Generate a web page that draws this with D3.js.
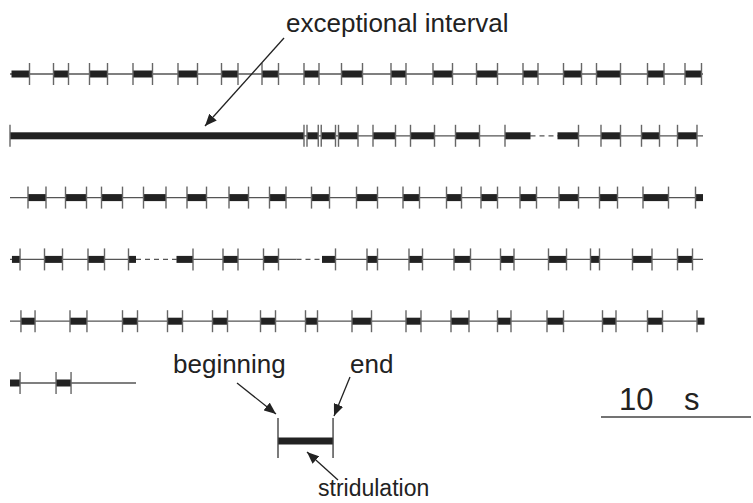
<!DOCTYPE html>
<html>
<head>
<meta charset="utf-8">
<script src="https://cdn.jsdelivr.net/npm/d3@7"></script>
<style>
  body { margin: 0; background: #fff; }
  text { font-family: "Liberation Sans", Arial, sans-serif; fill: #222; }
</style>
</head>
<body>
<div id="chart"></div>
<script>
var svgWidth = 753;
var svgHeight = 503;

// stridulations per row, in seconds: [start, end, ticks]  ticks: "be" both, "b" begin only, "e" end only
var row1 = [[0.1,1.3,"e"],[2.9,3.9],[5.3,6.5],[8.2,9.5],[11.2,12.5],[14.1,15.2],[16.8,17.9],[19.6,20.6],
  [22.1,23.5],[25.4,26.4],[28.2,29.5],[31.1,32.5],[34.2,35.2],[36.9,38.1],[39.1,40.7],[42.5,43.6],[45.0,46.1]];
var row2 = [[0,19.6],[19.8,20.55],[20.75,21.7],[21.9,23.2],[24.2,25.7],[26.7,28.3],[29.7,31.3],
  [33.0,34.7,"b"],[36.5,37.9,"e"],[39.4,40.7],[42.1,43.3],[44.5,45.8]];
var row3 = [[1.2,2.4],[3.7,5.1],[6.1,7.5],[8.9,10.4],[11.8,13.1],[14.6,15.9],[17.3,18.4],[20.1,21.3],
  [23.1,24.5],[26.2,27.3],[29.1,30.1],[31.4,32.5],[34.0,35.1],[36.6,37.9],[39.3,40.5],[42.2,43.9],[45.7,46.2,"b"]];
var row4 = [[0.13,0.67,"e"],[2.3,3.5],[5.2,6.3],[7.9,8.4,"b"],[11.1,12.2,"e"],[14.2,15.2],[16.9,17.9],
  [20.8,21.7,"e"],[23.8,24.5],[26.6,27.5],[29.6,30.7],[32.7,33.6],[35.9,37.1],[38.7,39.3],[41.5,42.8],[44.5,45.5]];
var row5 = [[0.73,1.67],[4.0,5.13],[7.5,8.5],[10.5,11.5],[13.5,14.5],[16.7,17.7],[19.7,20.5],[22.8,24.1],
  [26.4,27.4],[29.4,30.6],[32.5,33.4],[35.8,36.9],[39.5,40.4],[42.5,43.5],[45.8,46.3,"b"]];
var row6 = [[0,0.67,"e"],[3.07,4.07]];

var rows = [row1, row2, row3, row4, row5, row6];
var rowEnds = [46.2, 46.2, 46.2, 46.2, 46.2, 8.4];
// stretches of the time line drawn dashed (no recording)
var dashedGaps = [[], [[34.7, 36.5]], [], [[8.4, 11.1], [19.1, 20.8]], [], []];

var scaleBarSeconds = 10;
var legendBar = [0, 3.67];

var svg = d3.select("#chart")
  .append("svg")
  .attr("width", svgWidth)
  .attr("height", svgHeight);

var defs = svg.append("defs");
defs.append("marker")
  .attr("id", "arrow")
  .attr("viewBox", "0 0 12 10")
  .attr("refX", 12)
  .attr("refY", 5)
  .attr("markerWidth", 12)
  .attr("markerHeight", 10)
  .attr("markerUnits", "userSpaceOnUse")
  .attr("orient", "auto")
  .append("path")
  .attr("d", "M0,0 L12,5 L0,10 Z")
  .attr("fill", "#222");

var xScale = d3.scaleLinear().domain([0, 46.2]).range([10, 703]);
var yScale = d3.scalePoint().domain(d3.range(rows.length)).range([74, 383]);

var lineColor = "#555";
var barColor = "#222";

rows.forEach(function(bars, i) {
  var y = yScale(i);
  var g = svg.append("g").attr("class", "row");

  // baseline split into solid and dashed pieces
  var pieces = [];
  var cur = 0;
  dashedGaps[i].forEach(function(gap) {
    pieces.push({a: cur, b: gap[0], dash: false});
    pieces.push({a: gap[0], b: gap[1], dash: true});
    cur = gap[1];
  });
  pieces.push({a: cur, b: rowEnds[i], dash: false});

  g.selectAll("line.base")
    .data(pieces)
    .enter()
    .append("line")
    .attr("class", "base")
    .attr("x1", d => xScale(d.a))
    .attr("x2", d => xScale(d.b))
    .attr("y1", y)
    .attr("y2", y)
    .attr("stroke", lineColor)
    .attr("stroke-width", 1.3)
    .attr("stroke-dasharray", d => d.dash ? "5,4" : null);

  g.selectAll("rect")
    .data(bars)
    .enter()
    .append("rect")
    .attr("x", d => xScale(d[0]))
    .attr("y", y - 3.5)
    .attr("width", d => xScale(d[1]) - xScale(d[0]))
    .attr("height", 7)
    .attr("fill", barColor);

  var ticks = [];
  bars.forEach(function(d) {
    var t = d[2] || "be";
    if (t.indexOf("b") >= 0) ticks.push(d[0]);
    if (t.indexOf("e") >= 0) ticks.push(d[1]);
  });

  g.selectAll("line.tick")
    .data(ticks)
    .enter()
    .append("line")
    .attr("class", "tick")
    .attr("x1", d => xScale(d))
    .attr("x2", d => xScale(d))
    .attr("y1", y - 11)
    .attr("y2", y + 11)
    .attr("stroke", "#666")
    .attr("stroke-width", 1.4);
});

// annotation: exceptional interval
svg.append("text")
  .attr("x", 286)
  .attr("y", 32)
  .attr("font-size", 26)
  .text("exceptional interval");

svg.append("line")
  .attr("x1", 284).attr("y1", 38)
  .attr("x2", 205).attr("y2", 126)
  .attr("stroke", "#222").attr("stroke-width", 1.3)
  .attr("marker-end", "url(#arrow)");

// legend: one stridulation
var lx = 278 - xScale(0);
var ly = 441;
var legend = svg.append("g");

legend.append("rect")
  .attr("x", xScale(legendBar[0]) + lx)
  .attr("y", ly - 3.5)
  .attr("width", xScale(legendBar[1]) - xScale(legendBar[0]))
  .attr("height", 7)
  .attr("fill", barColor);

legend.selectAll("line.tick")
  .data(legendBar)
  .enter()
  .append("line")
  .attr("x1", d => xScale(d) + lx)
  .attr("x2", d => xScale(d) + lx)
  .attr("y1", ly - 23)
  .attr("y2", ly + 17)
  .attr("stroke", "#444")
  .attr("stroke-width", 1.4);

legend.append("text").attr("x", 173).attr("y", 373).attr("font-size", 26).text("beginning");
legend.append("text").attr("x", 350).attr("y", 373).attr("font-size", 26).text("end");
legend.append("text").attr("x", 318).attr("y", 496).attr("font-size", 23).text("stridulation");

var arrows = [
  [237, 383, 276, 414],
  [350, 377, 334, 416],
  [338, 480, 307, 452]
];
legend.selectAll("line.arrow")
  .data(arrows)
  .enter()
  .append("line")
  .attr("x1", d => d[0]).attr("y1", d => d[1])
  .attr("x2", d => d[2]).attr("y2", d => d[3])
  .attr("stroke", "#222").attr("stroke-width", 1.3)
  .attr("marker-end", "url(#arrow)");

// scale bar
var sx = 601;
svg.append("line")
  .attr("x1", sx)
  .attr("x2", sx + xScale(scaleBarSeconds) - xScale(0))
  .attr("y1", 417)
  .attr("y2", 417)
  .attr("stroke", "#444")
  .attr("stroke-width", 1.3);

svg.append("text")
  .attr("x", 619)
  .attr("y", 410)
  .attr("font-size", 31)
  .attr("word-spacing", 22)
  .text(scaleBarSeconds + " s");
</script>
</body>
</html>
